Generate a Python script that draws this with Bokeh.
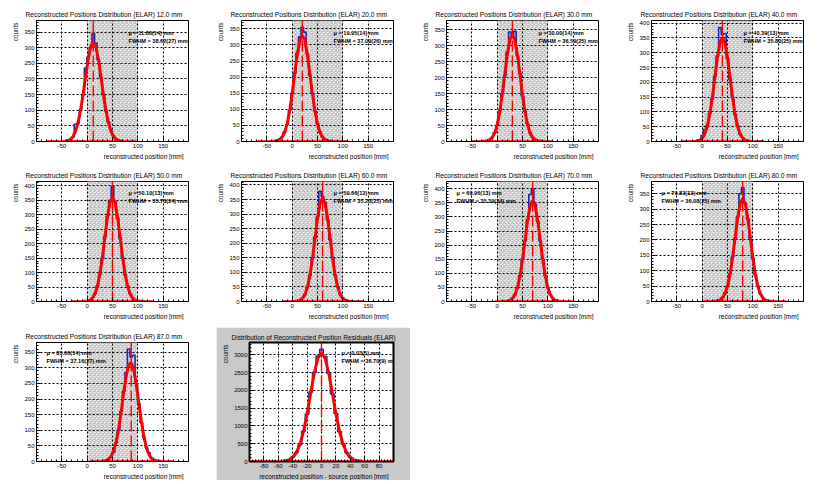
from bokeh.plotting import figure
from bokeh.models import Range1d, FixedTicker, SingleIntervalTicker, Label, Title, Spacer
from bokeh.layouts import row, column
from bokeh.embed import file_html
from bokeh.resources import INLINE

FONT = "Liberation Sans"
BLUE = "#1f1fb8"
RED = "#ff0000"

# ---------------- data ----------------
sources = [12.0, 20.0, 30.0, 40.0, 50.0, 60.0, 70.0, 80.0, 87.0]
offsets = [-60, -55, -50, -45, -40, -35, -30, -25, -20, -15, -10, -5, 0,
           5, 10, 15, 20, 25, 30, 35, 40, 45, 50, 55, 60]

hist_12 = [0, 1, 3, 6, 14, 55, 58, 102, 148, 235, 270, 300, 345, 315, 262, 205, 150, 98, 62, 35, 18, 9, 5, 3, 2]
fit_12 = [0, 1, 3, 7, 16, 33, 60, 100, 151, 209, 264, 304, 318, 304, 264, 209, 151, 100, 60, 33, 16, 7, 3, 1, 0]
hist_20 = [0, 1, 3, 7, 14, 30, 52, 96, 150, 212, 275, 325, 355, 340, 272, 205, 150, 95, 55, 30, 14, 7, 3, 2, 1]
fit_20 = [0, 1, 2, 6, 13, 28, 54, 94, 148, 210, 270, 314, 330, 314, 270, 210, 148, 94, 54, 28, 13, 6, 2, 1, 0]
hist_30 = [0, 1, 3, 6, 13, 28, 50, 95, 150, 205, 280, 343, 330, 345, 268, 212, 142, 95, 55, 28, 13, 6, 3, 2, 1]
fit_30 = [0, 1, 2, 5, 12, 26, 52, 92, 146, 210, 272, 318, 335, 318, 272, 210, 146, 92, 52, 26, 12, 5, 2, 1, 0]
hist_40 = [0, 1, 3, 6, 20, 40, 55, 95, 145, 220, 290, 385, 362, 365, 280, 210, 150, 90, 52, 25, 12, 6, 3, 1, 0]
fit_40 = [0, 0, 2, 4, 11, 25, 50, 91, 148, 216, 283, 333, 352, 333, 283, 216, 148, 91, 50, 25, 11, 4, 2, 0, 0]
hist_50 = [0, 1, 2, 5, 12, 27, 53, 95, 150, 225, 295, 350, 398, 345, 288, 220, 150, 92, 53, 27, 13, 6, 3, 1, 0]
fit_50 = [0, 1, 2, 4, 11, 25, 51, 93, 152, 222, 291, 343, 362, 343, 291, 222, 152, 93, 51, 25, 11, 4, 2, 1, 0]
hist_60 = [0, 1, 2, 5, 11, 24, 50, 90, 150, 220, 290, 378, 360, 340, 280, 212, 148, 90, 50, 25, 12, 6, 3, 1, 0]
fit_60 = [0, 0, 1, 4, 10, 23, 48, 88, 146, 215, 285, 337, 356, 337, 285, 215, 146, 88, 48, 23, 10, 4, 1, 0, 0]
hist_70 = [0, 1, 2, 5, 12, 25, 48, 92, 150, 215, 290, 380, 400, 345, 285, 215, 150, 92, 50, 24, 12, 6, 3, 1, 0]
fit_70 = [0, 0, 1, 4, 10, 24, 49, 90, 148, 218, 287, 339, 358, 339, 287, 218, 148, 90, 49, 24, 10, 4, 1, 0, 0]
hist_80 = [0, 1, 3, 6, 14, 28, 50, 90, 145, 205, 275, 350, 370, 320, 268, 205, 140, 85, 50, 25, 12, 6, 3, 1, 0]
fit_80 = [0, 1, 2, 4, 11, 25, 49, 88, 143, 207, 271, 318, 335, 318, 271, 207, 143, 88, 49, 25, 11, 4, 2, 1, 0]
hist_87 = [0, 1, 3, 7, 15, 30, 60, 100, 160, 225, 285, 360, 335, 340, 250, 185, 125, 78, 45, 28, 12, 6, 3, 1, 0]
fit_87 = [0, 1, 3, 7, 16, 33, 61, 103, 158, 219, 274, 310, 317, 293, 246, 186, 128, 79, 44, 22, 10, 4, 2, 1, 0]
hist_res = [3, 8, 22, 55, 125, 255, 470, 850, 1330, 1950, 2500, 2960, 3150, 2950, 2480, 1900, 1350, 840, 490, 250, 120, 52, 20, 8, 3]
fit_res = [2, 6, 18, 47, 114, 246, 480, 843, 1341, 1922, 2487, 2902, 3055, 2902, 2487, 1922, 1341, 843, 480, 246, 114, 47, 18, 6, 2]

hists = [hist_12, hist_20, hist_30, hist_40, hist_50, hist_60, hist_70, hist_80, hist_87]
fits = [fit_12, fit_20, fit_30, fit_40, fit_50, fit_60, fit_70, fit_80, fit_87]

fit_lo = [-80, -68, -50, -41, -31, -20, -5, 0, 5]
fit_hi = [100, 109, 110, 122, 130, 140, 150, 166, 171]
y_tops = [387, 376, 379, 409, 415, 412, 426, 390, 381]

mu_labels = ["μ = 11.80(14) mm", "μ = 19.95(14) mm", "μ = 30.00(14) mm",
             "μ = 40.39(13) mm", "μ = 50.10(13) mm", "μ = 59.66(13) mm",
             "μ = 69.96(13) mm", "μ = 79.83(13) mm", "μ = 85.66(14) mm"]
fwhm_labels = ["FWHM = 38.62(27) mm", "FWHM = 37.09(26) mm", "FWHM = 36.59(25) mm",
               "FWHM = 35.80(25) mm", "FWHM = 35.73(24) mm", "FWHM = 35.23(25) mm",
               "FWHM = 35.39(24) mm", "FWHM = 36.08(25) mm", "FWHM = 37.16(27) mm"]
stats_on_left = [False, False, False, False, False, False, True, True, True]

res_source = 0.0
res_fit_lo, res_fit_hi = -100, 100
res_y_top = 3344
res_mu_label = "μ = 0.03(5) mm"
res_fwhm_label = "FWHM = 36.70(9) mm"

detector_lo, detector_hi = 0, 100

pos_xticks = [-50, 0, 50, 100, 150]
pos_xtick_labels = ["-50", "0", "50", "100", "150"]
res_xticks = [-80, -60, -40, -20, 0, 20, 40, 60, 80]
res_xtick_labels = ["-80", "-60", "-40", "-20", "0", "20", "40", "60", "80"]

# cell geometry per grid row: (top border, bottom border)
row_borders = [(20, 18), (21, 18), (22, 16)]


def style_text_title(t, size):
    t.text_font = FONT
    t.text_font_size = size
    t.text_font_style = "normal"
    t.text_color = "black"


def make_panel(title, x_lo, x_hi, xticks, xtick_labels, xminor, ytop, yint,
               centers, hist, fit, src, f_lo, f_hi, mu_txt, fwhm_txt, stats_left,
               xlabel, borders, det=None, residual=False):
    bt, bb = borders
    if residual:
        w, h, bl, br = 194, 153, 26, 17
        toff = -18
    else:
        w, h, bl, br = 205, 160, 36, 17
        toff = -11
    p = figure(width=w, height=h, output_backend="svg", toolbar_location=None,
               x_range=Range1d(x_lo, x_hi), y_range=Range1d(0, ytop),
               min_border_left=bl, min_border_right=br,
               min_border_top=bt, min_border_bottom=bb, title=title)
    style_text_title(p.title, "6.6px")
    p.title.align = "left"
    p.title.offset = toff
    p.title.standoff = 4 if residual else 5

    xl = Title(text=xlabel, align="right", standoff=1, offset=5)
    style_text_title(xl, "6.5px")
    p.add_layout(xl, "below")
    yl = Title(text="counts", align="right", standoff=6, offset=2)
    style_text_title(yl, "6.3px")
    p.add_layout(yl, "left")

    p.background_fill_color = "white"
    p.border_fill_color = "#c9c9c9" if residual else "white"
    p.outline_line_color = "black"
    p.outline_line_width = 2 if residual else 1

    p.xaxis.ticker = FixedTicker(ticks=xticks, minor_ticks=xminor)
    p.xaxis.major_label_overrides = dict(zip(xticks, xtick_labels))
    p.yaxis.ticker = SingleIntervalTicker(interval=yint, num_minor_ticks=5)
    for ax in (p.xaxis, p.yaxis):
        ax.major_tick_in = 4
        ax.major_tick_out = 0
        ax.minor_tick_in = 2
        ax.minor_tick_out = 0
        ax.major_tick_line_color = "black"
        ax.minor_tick_line_color = "black"
        ax.axis_line_color = "black"
        ax.major_label_text_font = FONT
        ax.major_label_text_font_size = "6px"
        ax.major_label_text_color = "black"
        ax.major_label_standoff = 2
    for g in (p.xgrid, p.ygrid):
        g.grid_line_color = "black"
        g.grid_line_dash = "2 2"
        g.grid_line_width = 1
        g.grid_line_alpha = 1

    if det is not None:
        p.quad(left=[det[0]], right=[det[1]], bottom=[0], top=[ytop],
               fill_color="#eeeeee", line_color=None, hatch_pattern="x",
               hatch_color="#c4c4c4", hatch_scale=4, hatch_weight=1.3, level="image")

    xs = [src + o for o in centers]
    p.step(x=xs, y=hist, mode="center", line_color=BLUE, line_width=1.6)
    p.segment(x0=[f_lo], y0=[0], x1=[f_hi], y1=[0], line_color=RED, line_width=2.5)
    p.line(x=xs, y=fit, line_color=RED, line_width=3)
    peak = max(fit)
    p.segment(x0=[src], y0=[peak], x1=[src], y1=[ytop], line_color=RED, line_width=1.4)
    p.segment(x0=[src], y0=[0], x1=[src], y1=[peak], line_color=RED, line_width=1.4,
              line_dash="11 4")

    sx = 10 if stats_left else 92
    for txt, sy in ((mu_txt, 109), (fwhm_txt, 101)):
        p.add_layout(Label(x=sx, y=sy, x_units="screen", y_units="screen", text=txt,
                           text_font=FONT, text_font_size="5.6px", text_font_style="bold",
                           text_color="black", text_baseline="middle"))
    return p


panels = []
for i, s in enumerate(sources):
    panels.append(make_panel(
        f"Reconstructed Positions Distribution (ELAR) {s:.1f} mm",
        -100, 200, pos_xticks, pos_xtick_labels, list(range(-100, 201, 10)),
        y_tops[i], 50, offsets, hists[i], fits[i], s, fit_lo[i], fit_hi[i],
        mu_labels[i], fwhm_labels[i], stats_on_left[i],
        "reconstructed position [mm]", row_borders[i // 4],
        det=(detector_lo, detector_hi)))

res_panel = make_panel(
    "Distribution of Reconstructed Position Residuals (ELAR)",
    -100, 100, res_xticks, res_xtick_labels, list(range(-100, 101, 4)),
    res_y_top, 500, offsets, hist_res, fit_res, res_source, res_fit_lo, res_fit_hi,
    res_mu_label, res_fwhm_label, False,
    "reconstructed position - source position [mm]", (15, 16), det=None, residual=True)

r1 = row(*panels[0:4])
r2 = row(*panels[4:8])
r3 = row(panels[8], Spacer(width=11, height=160),
         column(Spacer(width=194, height=7), res_panel))
layout = column(r1, r2, r3)

open("out.html", "w").write(file_html(layout, INLINE))
